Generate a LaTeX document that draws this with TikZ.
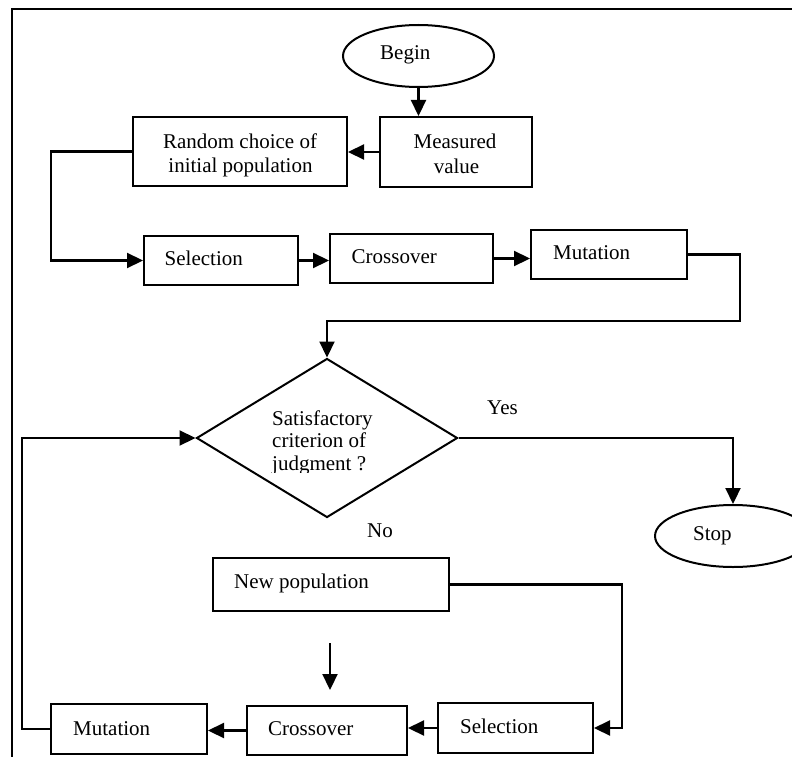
\documentclass[tikz,border=0pt]{standalone}
\usepackage{fontspec}
\setmainfont{Liberation Serif}
\usetikzlibrary{arrows.meta,shapes.geometric}
\newcommand{\lblfont}{\fontsize{21}{25}\selectfont}
\tikzset{
  box/.style={draw, rectangle, line width=2pt, inner sep=0pt},
  term/.style={draw, ellipse, line width=2pt, inner sep=0pt},
  arr/.style={-{Triangle[length=16pt,width=15pt]}, line width=2.2pt},
  txt/.style={anchor=base west, inner sep=0pt, font=\lblfont},
  ctxt/.style={anchor=base, inner sep=0pt, font=\lblfont}
}
\begin{document}
\begin{tikzpicture}[x=1pt,y=-1pt]
\useasboundingbox (0,0) rectangle (792,757);
\clip (0,0) rectangle (792,757);
% frame (cut off at right and bottom)
\draw[line width=2.8pt] (12,757) -- (12,9) -- (792,9);

% terminals
\node[term, minimum width=151pt, minimum height=62pt] (begin) at (418.5,56) {};
\node[txt] (beginT) at (380,60) {Begin};
\node[term, minimum width=156pt, minimum height=62pt] (stop) at (733,536) {};
\node[txt] (stopT) at (693,540) {Stop};

% top boxes
\node[box, minimum width=152pt, minimum height=70pt] (meas) at (456,152) {};
\node[ctxt] (measT1) at (455,148) {Measured};
\node[ctxt] (measT2) at (456.5,173) {value};
\node[box, minimum width=214pt, minimum height=69pt] (rand) at (240,151.5) {};
\node[ctxt] (randT1) at (240,148) {Random choice of};
\node[ctxt] (randT2) at (240.5,172) {initial population};

\node[box, minimum width=154pt, minimum height=49pt] (selT) at (221,260.5) {};
\node[txt] (selTT) at (164.5,265) {Selection};
\node[box, minimum width=163pt, minimum height=49pt] (crossT) at (411.5,258.5) {};
\node[txt] (crossTT) at (351.5,263.5) {Crossover};
\node[box, minimum width=156pt, minimum height=49pt] (mutT) at (609,254.5) {};
\node[txt] (mutTT) at (553,259.5) {Mutation};

% decision
\node[draw, diamond, line width=2pt, inner sep=0pt, minimum width=261pt, minimum height=159pt] (dia) at (327,438) {};
\node[txt] (diaT1) at (272,425) {Satisfactory};
\node[txt] (diaT2) at (272,447.5) {criterion of};
\begin{scope}
  \clip (260,450) rectangle (420,472);
  \node[txt] (diaT3) at (272,470) {judgment ?};
\end{scope}
\node[txt] (yes) at (487,414) {Yes};
\node[txt] (no) at (367,537) {No};

% bottom boxes
\node[box, minimum width=236pt, minimum height=53pt] (newp) at (331,584.5) {};
\node[txt] (newpT) at (234,588) {New population};
\node[box, minimum width=155pt, minimum height=50pt] (selB) at (515.5,728) {};
\node[txt] (selBT) at (460,733) {Selection};
\node[box, minimum width=160pt, minimum height=49pt] (crossB) at (327,730.5) {};
\node[txt] (crossBT) at (268,735) {Crossover};
\node[box, minimum width=156pt, minimum height=50pt] (mutB) at (129,729) {};
\node[txt] (mutBT) at (73,735) {Mutation};

% helper coordinates
\coordinate (c1) at (51,0);
\coordinate (c2) at (740,321);
\coordinate (c4) at (622,728);
\coordinate (c5) at (22,0);
\coordinate (s1) at (330,643);
\coordinate (s2) at (330,690);

% connectors
\draw[arr] (begin.south) -- (begin.south |- meas.north);
\draw[arr] (meas.west) -- (meas.west -| rand.east);
\draw[arr] (rand.west) -- (rand.west -| c1) |- (selT.west);
\draw[arr] (selT.east) -- (selT.east -| crossT.west);
\draw[arr] (crossT.east) -- (crossT.east -| mutT.west);
\draw[arr] (mutT.east) -| (c2) -- (c2 -| dia.north) -- (dia.north);
\draw[arr] (dia.east) -| (stop.north);
\draw[arr] (newp.east) -| (c4) -- (selB.east);
\draw[arr] (selB.west) -- (selB.west -| crossB.east);
\draw[arr] (crossB.west) -- (crossB.west -| mutB.east);
\draw[arr] (mutB.west) -- (mutB.west -| c5) |- (dia.west);
\draw[arr] (s1) -- (s2);
\end{tikzpicture}
\end{document}
